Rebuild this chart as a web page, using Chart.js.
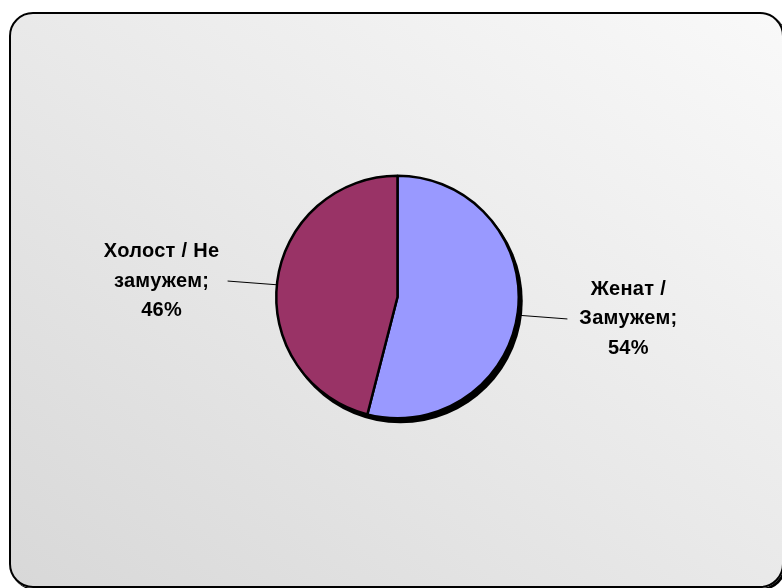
<!DOCTYPE html>
<html>
<head>
<meta charset="utf-8">
<script src="https://cdn.jsdelivr.net/npm/chart.js@4.4.1/dist/chart.umd.min.js"></script>
<style>
  html, body { margin: 0; padding: 0; width: 782px; height: 588px; overflow: hidden; background: #fff; }
  .frame {
    position: absolute; left: 9px; top: 12px; width: 771px; height: 572px;
    border: 2px solid #000; border-radius: 24px;
    background: linear-gradient(to bottom left, #f9f9f9 0%, #e9e9e9 50%, #d8d8d8 100%);
    box-shadow: 2px 2px 0 #000;
  }
  #chart { position: absolute; left: 0; top: 0; }
</style>
</head>
<body>
<div class="frame"></div>
<canvas id="chart" width="782" height="588"></canvas>
<script>
const categories = [['Женат /', 'Замужем;'], ['Холост / Не', 'замужем;']];
const values = [54, 46];
const colors = ['#9999FF', '#993366'];

const total = values.reduce((a, b) => a + b, 0);

// black drop shadow under the pie
const pieShadow = {
  id: 'pieShadow',
  beforeDatasetsDraw(chart) {
    const arc = chart.getDatasetMeta(0).data[0];
    if (!arc) return;
    const { ctx } = chart;
    ctx.save();
    ctx.fillStyle = '#000';
    ctx.beginPath();
    ctx.arc(arc.x + 3, arc.y + 4, arc.outerRadius + 1, 0, Math.PI * 2);
    ctx.fill();
    ctx.restore();
  },
};

// labels with leader lines, placed outside each slice
const outsideLabels = {
  id: 'outsideLabels',
  afterDatasetsDraw(chart) {
    const { ctx } = chart;
    const arcs = chart.getDatasetMeta(0).data;
    ctx.save();
    ctx.font = 'bold 20px "Liberation Sans", Arial, sans-serif';
    ctx.letterSpacing = '0.3px';
    ctx.fillStyle = '#000';
    ctx.textAlign = 'center';
    ctx.textBaseline = 'middle';
    arcs.forEach((arc, i) => {
      const mid = (arc.startAngle + arc.endAngle) / 2;
      const dx = Math.cos(mid), dy = Math.sin(mid);
      const r = arc.outerRadius;
      const sx = arc.x + dx * r, sy = arc.y + dy * r + 3;
      const ex = arc.x + dx * (r + 50), ey = arc.y + dy * (r + 30) + 3;
      ctx.strokeStyle = '#000';
      ctx.lineWidth = 1;
      ctx.beginPath();
      ctx.moveTo(sx, sy);
      ctx.lineTo(ex, ey);
      ctx.stroke();
      const pct = Math.round(values[i] / total * 100) + '%';
      const lines = [...categories[i], pct];
      const side = dx >= 0 ? 1 : -1;
      const tx = ex + side * (side > 0 ? 61 : 66);
      const lh = 29.5;
      lines.forEach((t, k) => {
        ctx.fillText(t, tx, ey + (k - 1) * lh);
      });
    });
    ctx.restore();
  },
};

new Chart(document.getElementById('chart'), {
  type: 'pie',
  data: {
    labels: categories.map((c) => c.join(' ')),
    datasets: [
      {
        data: values,
        backgroundColor: colors,
        borderColor: '#000',
        borderWidth: 2.5,
        hoverOffset: 0,
      },
    ],
  },
  options: {
    responsive: false,
    animation: false,
    events: [],
    layout: { padding: { left: 275, right: 262, top: 174, bottom: 168 } },
    plugins: {
      legend: { display: false },
      tooltip: { enabled: false },
    },
  },
  plugins: [pieShadow, outsideLabels],
});
</script>
</body>
</html>
